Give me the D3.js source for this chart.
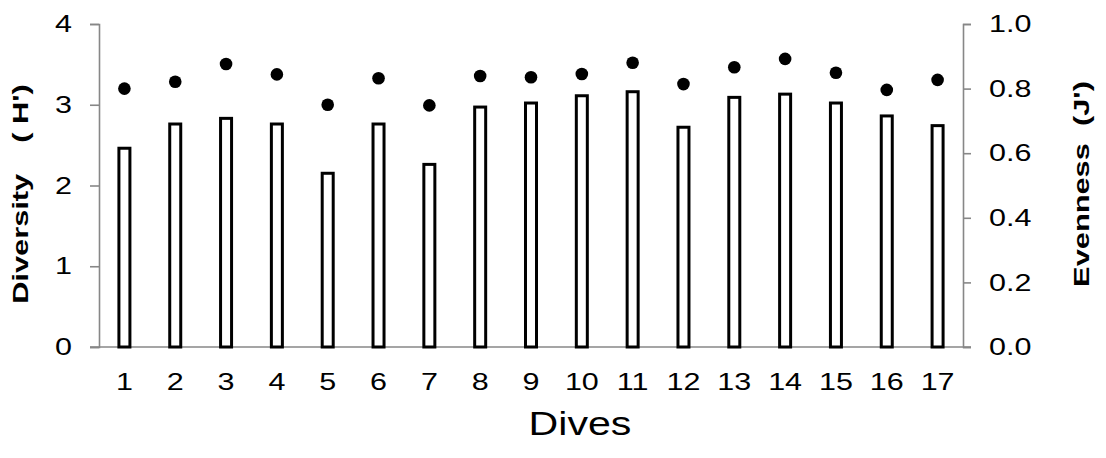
<!DOCTYPE html>
<html>
<head>
<meta charset="utf-8">
<script src="https://cdn.jsdelivr.net/npm/d3@7"></script>
<style>
  html, body { margin: 0; padding: 0; background: #fff; }
  svg { display: block; font-family: "Liberation Sans", Arial, sans-serif; }
</style>
</head>
<body>
<svg id="chart" width="1106" height="458"></svg>
<script>
// Dive numbers
const dives = ["1","2","3","4","5","6","7","8","9","10","11","12","13","14","15","16","17"];
// Shannon diversity H' per dive (bars, left axis)
const diversity = [2.48, 2.78, 2.85, 2.78, 2.17, 2.78, 2.28, 2.99, 3.04, 3.13, 3.18, 2.74, 3.11, 3.15, 3.04, 2.88, 2.76];
// Pielou evenness J' per dive (dots, right axis)
const evenness = [0.800, 0.821, 0.876, 0.844, 0.750, 0.832, 0.748, 0.839, 0.835, 0.845, 0.880, 0.814, 0.866, 0.892, 0.849, 0.796, 0.827];
// Axis tick values
const leftTicks = [0, 1, 2, 3, 4];
const rightTicks = [0, 0.2, 0.4, 0.6, 0.8, 1.0];

const svg = d3.select("#chart");
const plotLeft = 99, plotRight = 963, plotTop = 24, plotBottom = 347;
const axisGrey = "#878787";
const wide = 1.27; // horizontal widening of the label face

const x = d3.scaleBand().domain(dives).range([plotLeft, plotRight]).padding(0);
const yL = d3.scaleLinear().domain([0, 4]).range([plotBottom, plotTop]);
const yR = d3.scaleLinear().domain([0, 1]).range([plotBottom, plotTop]);

// Left axis
const gL = svg.append("g").attr("transform", `translate(${plotLeft},0)`)
  .call(d3.axisLeft(yL).tickValues(leftTicks).tickSize(9).tickPadding(18).tickFormat(d3.format("d")));
// Right axis
const gR = svg.append("g").attr("transform", `translate(${plotRight},0)`)
  .call(d3.axisRight(yR).tickValues(rightTicks).tickSize(8).tickPadding(18).tickFormat(d3.format(".1f")));
// Bottom axis (labels only, baseline drawn separately)
const gB = svg.append("g").attr("transform", `translate(0,${plotBottom})`)
  .call(d3.axisBottom(x).tickSize(0).tickPadding(26));

[gL, gR, gB].forEach(g => {
  g.select(".domain").attr("stroke", axisGrey).attr("stroke-width", 1.6);
  g.selectAll(".tick line").attr("stroke", axisGrey).attr("stroke-width", 1.6);
  g.selectAll(".tick text").each(function () {
    const t = d3.select(this);
    const tx = +t.attr("x") || 0;
    t.attr("x", 0)
      .attr("transform", `translate(${tx},0) scale(${wide},1)`)
      .attr("fill", "#000")
      .style("font-size", "24px")
      .style("font-family", "'Liberation Sans', Arial, sans-serif");
  });
});
gB.select(".domain").remove();
svg.append("line")
  .attr("x1", plotLeft - 9).attr("x2", plotRight + 8)
  .attr("y1", plotBottom).attr("y2", plotBottom)
  .attr("stroke", axisGrey).attr("stroke-width", 1.6);

// Bars
const barW = 11;
svg.append("g").selectAll("rect").data(dives).join("rect")
  .attr("x", (d) => x(d) + x.bandwidth() / 2 - barW / 2)
  .attr("y", (d, i) => yL(diversity[i]) + 1.5)
  .attr("width", barW)
  .attr("height", (d, i) => plotBottom - yL(diversity[i]) - 1.5)
  .attr("fill", "#fff")
  .attr("stroke", "#000")
  .attr("stroke-width", 3);

// Evenness dots
svg.append("g").selectAll("circle").data(dives).join("circle")
  .attr("cx", (d) => x(d) + x.bandwidth() / 2)
  .attr("cy", (d, i) => yR(evenness[i]))
  .attr("r", 6.3)
  .attr("fill", "#000");

// Axis titles
svg.append("text")
  .attr("transform", `translate(28,194) rotate(-90) scale(1.4,1)`)
  .attr("text-anchor", "middle")
  .style("font-size", "22px").style("font-weight", "bold")
  .text("Diversity\u3000( H')");
svg.append("text")
  .attr("transform", `translate(1089,184) rotate(-90) scale(1.4,1)`)
  .attr("text-anchor", "middle")
  .style("font-size", "22px").style("font-weight", "bold")
  .text("Evenness\u00a0\u00a0(J')");
svg.append("text")
  .attr("transform", `translate(580,435) scale(1.21,1)`)
  .attr("text-anchor", "middle")
  .style("font-size", "34px")
  .text("Dives");
</script>
</body>
</html>
